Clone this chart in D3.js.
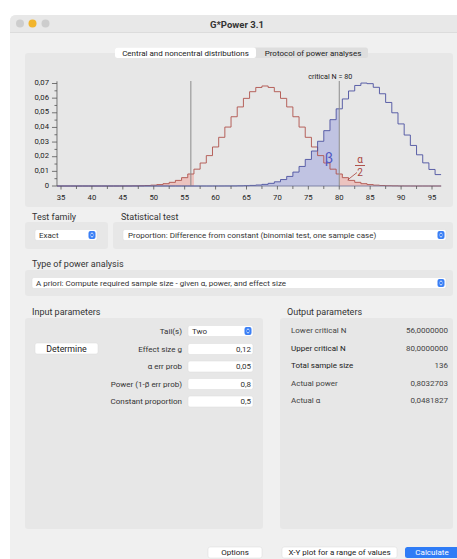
<!DOCTYPE html>
<html><head><meta charset="utf-8">
<script src="https://cdn.jsdelivr.net/npm/d3@7"></script>
<style>
body{margin:0;background:#fff;}
svg{display:block;font-family:Roboto,"Liberation Sans",sans-serif;}
</style>
</head><body>
<svg id="c" width="457" height="559"></svg>
<script>
// ---------- data ----------
const successes = [34,35,36,37,38,39,40,41,42,43,44,45,46,47,48,49,50,51,52,53,54,55,56,57,58,59,60,61,62,63,64,65,66,67,68,69,70,71,72,73,74,75,76,77,78,79,80,81,82,83,84,85,86,87,88,89,90,91,92,93,94,95,96];
// H0 distribution (constant proportion 0.5), red
const nullDist = [0,0,0,0,0,0,0,0,0,0,0.00001,0.00003,0.00005,0.0001,0.00019,0.00034,0.00058,0.00097,0.00158,0.0025,0.00383,0.0057,0.0082,0.0115,0.0157,0.02075,0.02665,0.03325,0.04025,0.0473,0.054,0.05985,0.0644,0.0673,0.0683,0.0673,0.0644,0.05985,0.054,0.0473,0.04025,0.03325,0.02665,0.02075,0.0157,0.0115,0.0082,0.0057,0.00383,0.0025,0.00158,0.00097,0.00058,0.00034,0.00019,0.0001,0.00005,0.00003,0.00001,0,0,0,0];
// H1 distribution, blue
const altDist = [0,0,0,0,0,0,0,0,0,0,0,0,0,0,0,0,0,0,0,0,0,0,0,0,0,0,0.00001,0.00002,0.00004,0.00007,0.00013,0.00023,0.0004,0.00068,0.00112,0.00182,0.00287,0.0044,0.00655,0.0095,0.01335,0.01815,0.0239,0.03055,0.0378,0.0453,0.0527,0.05945,0.0649,0.06865,0.0703,0.0699,0.0674,0.063,0.05705,0.05,0.0424,0.0348,0.0277,0.0213,0.0158,0.0113,0.0078];
const xTicks = [35,40,45,50,55,60,65,70,75,80,85,90,95];
const xMinorTicks = [37.5,42.5,47.5,52.5,57.5,62.5,67.5,72.5,77.5,82.5,87.5,92.5];
const yTicks = [0,0.01,0.02,0.03,0.04,0.05,0.06,0.07];
const yTickLabels = ["0","0,01","0,02","0,03","0,04","0,05","0,06","0,07"];
const yMinorTicks = [0.005,0.015,0.025,0.035,0.045,0.055,0.065];
const lowerCritical = 56, upperCritical = 80;

const inputLabels = ["Tail(s)","Effect size g","α err prob","Power (1-β err prob)","Constant proportion"];
const inputValues = ["Two","0,12","0,05","0,8","0,5"];
const outputLabels = ["Lower critical N","Upper critical N","Total sample size","Actual power","Actual α"];
const outputValues = ["56,0000000","80,0000000","136","0,8032703","0,0481827"];

// ---------- drawing ----------
const svg = d3.select("#c");
const FS = 8;
const HS = 9;

// window
svg.append("rect").attr("x",10).attr("y",15).attr("width",460).attr("height",560).attr("rx",6).attr("fill","#f0f0f0");
svg.append("path").attr("d","M10,32 V21 Q10,15 16,15 H457 V32 Z").attr("fill","#e8e8e8");
svg.append("line").attr("x1",10).attr("x2",457).attr("y1",32.5).attr("y2",32.5).attr("stroke","#dcdcdc");
[[20,"#cdcdcd"],[32.5,"#f2b52c"],[45.5,"#cdcdcd"]].forEach(([cx,c])=>svg.append("circle").attr("cx",cx).attr("cy",23.5).attr("r",4).attr("fill",c));

function box(x,y,w,h){svg.append("rect").attr("x",x).attr("y",y).attr("width",w).attr("height",h).attr("rx",3).attr("fill","#e7e7e7");}
function txt(x,y,s,opt={}){
  return svg.append("text").attr("x",x).attr("y",y).attr("dominant-baseline","central")
   .attr("font-size",opt.fs||FS).attr("fill",opt.fill||"#333").attr("text-anchor",opt.anchor||"start")
   .attr("font-weight",opt.fw||"normal").text(s);
}
function field(x,y,w,h){svg.append("rect").attr("x",x).attr("y",y).attr("width",w).attr("height",h).attr("rx",2).attr("fill","#fff")
  .attr("stroke","#dadada").attr("stroke-width",0.5);}
function stepper(x,y){
  svg.append("rect").attr("x",x).attr("y",y).attr("width",7).attr("height",8).attr("rx",2).attr("fill","#3a7ff5");
  svg.append("path").attr("d",`M${x+2},${y+3.2} L${x+3.5},${y+1.8} L${x+5},${y+3.2} M${x+2},${y+4.8} L${x+3.5},${y+6.2} L${x+5},${y+4.8}`)
    .attr("fill","none").attr("stroke","#fff").attr("stroke-width",0.8);
}

txt(237,24,"G*Power 3.1",{fs:9.5,fw:"bold",anchor:"middle",fill:"#333"});

// chart panel & tabs
box(25,53,428,154);
svg.append("rect").attr("x",115).attr("y",47.5).attr("width",253).attr("height",10.5).attr("rx",2.5).attr("fill","#dedede");
svg.append("rect").attr("x",115).attr("y",47.5).attr("width",141).attr("height",10.5).attr("rx",2.5).attr("fill","#fff");
txt(185.5,53,"Central and noncentral distributions",{fs:8,fill:"#222",anchor:"middle"});
txt(313,53,"Protocol of power analyses",{fs:8,fill:"#222",anchor:"middle"});

// scales
const x = d3.scaleLinear().domain([35,95]).range([61,432]);
const y = d3.scaleLinear().domain([0,0.07]).range([186,83.5]);
const xMin = 34.35, xMax = 96.5;

const ptsNull = successes.map((k,i)=>[k-0.5,nullDist[i]]);
ptsNull.push([successes[successes.length-1]+0.5,nullDist[nullDist.length-1]]);
const ptsAlt = successes.map((k,i)=>[k-0.5,altDist[i]]);
ptsAlt.push([successes[successes.length-1]+0.5,altDist[altDist.length-1]]);

const defs = svg.append("defs");
function clip(id,a,b){defs.append("clipPath").attr("id",id).append("rect").attr("x",x(a)).attr("y",60).attr("width",x(b)-x(a)).attr("height",130);}
clip("cAll",xMin,xMax); clip("cLeft",xMin,lowerCritical+0.5); clip("cBeta",lowerCritical+0.5,upperCritical); clip("cRight",upperCritical,xMax);

const area = d3.area().curve(d3.curveStepAfter).x(d=>x(d[0])).y0(y(0)).y1(d=>y(d[1]));
const line = d3.line().curve(d3.curveStepAfter).x(d=>x(d[0])).y(d=>y(d[1]));

svg.append("path").attr("d",area(ptsNull)).attr("fill","#ecc3bf").attr("clip-path","url(#cLeft)");
svg.append("path").attr("d",area(ptsAlt)).attr("fill","#c0c3e2").attr("clip-path","url(#cBeta)");
svg.append("path").attr("d",area(ptsNull)).attr("fill","#ecc3bf").attr("clip-path","url(#cRight)");

svg.append("path").attr("d",line(ptsNull)).attr("fill","none").attr("stroke","#b0524c").attr("stroke-width",0.9).attr("clip-path","url(#cAll)");
svg.append("path").attr("d",line(ptsAlt)).attr("fill","none").attr("stroke","#4c51a0").attr("stroke-width",0.9).attr("clip-path","url(#cAll)");

// critical lines
[lowerCritical,upperCritical].forEach(v=>svg.append("line").attr("x1",x(v)).attr("x2",x(v)).attr("y1",81).attr("y2",y(0))
  .attr("stroke","#8c8c8c").attr("stroke-width",1));
txt(x(upperCritical)-9,76,"critical N = 80",{fs:7.2,fill:"#222",anchor:"middle"});

// axes
const ax = svg.append("g").attr("stroke","#555").attr("stroke-width",0.8);
ax.append("line").attr("x1",x(xMin)).attr("x2",x(xMax)).attr("y1",y(0)).attr("y2",y(0)).attr("stroke","#6b6f98");
ax.append("line").attr("x1",x(xMin)).attr("x2",x(xMin)).attr("y1",y(0.0715)).attr("y2",y(0));
xTicks.forEach(t=>ax.append("line").attr("x1",x(t)).attr("x2",x(t)).attr("y1",y(0)).attr("y2",y(0)+3.5));
xMinorTicks.forEach(t=>ax.append("line").attr("x1",x(t)).attr("x2",x(t)).attr("y1",y(0)).attr("y2",y(0)+3));
yTicks.forEach(t=>ax.append("line").attr("x1",x(xMin)-5).attr("x2",x(xMin)).attr("y1",y(t)).attr("y2",y(t)));
yMinorTicks.forEach(t=>ax.append("line").attr("x1",x(xMin)-2.5).attr("x2",x(xMin)).attr("y1",y(t)).attr("y2",y(t)));
xTicks.forEach(t=>txt(x(t),197.5,String(t),{fs:7.7,fill:"#222",anchor:"middle"}));
yTicks.forEach((t,i)=>txt(49,y(t)-1,yTickLabels[i],{fs:7.7,fill:"#222",anchor:"end"}));

// beta & alpha/2 annotations
txt(329,158,"β",{fs:14,fill:"#4f55c0",anchor:"middle"});
txt(360,159,"α",{fs:10,fill:"#a8433c",anchor:"middle"});
svg.append("line").attr("x1",355).attr("x2",365).attr("y1",165.5).attr("y2",165.5).attr("stroke","#a8433c").attr("stroke-width",0.9);
txt(360,172,"2",{fs:10,fill:"#a8433c",anchor:"middle"});
svg.append("line").attr("x1",357).attr("y1",172.5).attr("x2",347.5).attr("y2",180).attr("stroke","#a8433c").attr("stroke-width",0.8);

// test family / statistical test
txt(32,216.5,"Test family",{fs:HS,fill:"#333"});
txt(121,216.5,"Statistical test",{fs:HS,fill:"#333"});
box(25,222,83,27); box(113,222,340,27);
field(35,229.5,62,11); txt(39,235,"Exact"); stepper(88.5,231);
field(123,229.5,323,11); txt(128,235,"Proportion: Difference from constant (binomial test, one sample case)"); stepper(437.5,231);

txt(32,264,"Type of power analysis",{fs:HS,fill:"#333"});
box(25,270,428,26);
field(32,277.5,414,11); txt(36,283,"A priori: Compute required sample size - given α, power, and effect size"); stepper(437.5,279);

// input / output
txt(32,312,"Input parameters",{fs:HS,fill:"#333"});
txt(287,312,"Output parameters",{fs:HS,fill:"#333"});
box(25,318,238,211); box(280,318,173,211);

const inRowY = [331,349,366.5,384,401.5];
inputLabels.forEach((l,i)=>{
  txt(182,inRowY[i],l,{anchor:"end"});
  field(188,inRowY[i]-5.5,65,11);
  if(i===0){txt(192,inRowY[i],inputValues[i]); stepper(244.5,inRowY[i]-4);}
  else txt(251,inRowY[i],inputValues[i],{anchor:"end"});
});
field(35,343,63,11); txt(66.5,348.5,"Determine",{fs:8.8,anchor:"middle",fill:"#222"});

const outRowY = [330,348,365,383,400];
outputLabels.forEach((l,i)=>{
  txt(291,outRowY[i],l,{fill:(i===1||i===2)?"#1a1a1a":"#444"});
  txt(448,outRowY[i],outputValues[i],{anchor:"end",fill:"#444"});
});

// bottom buttons
field(208,547,54,11); txt(235,552.5,"Options",{anchor:"middle",fill:"#222"});
field(282,547,115,11); txt(339.5,552.5,"X-Y plot for a range of values",{anchor:"middle",fill:"#222"});
svg.append("rect").attr("x",405).attr("y",547).attr("width",60).attr("height",11).attr("rx",2.5).attr("fill","#2f7cf6");
txt(432,552.5,"Calculate",{anchor:"middle",fill:"#fff"});
</script>
</body></html>
